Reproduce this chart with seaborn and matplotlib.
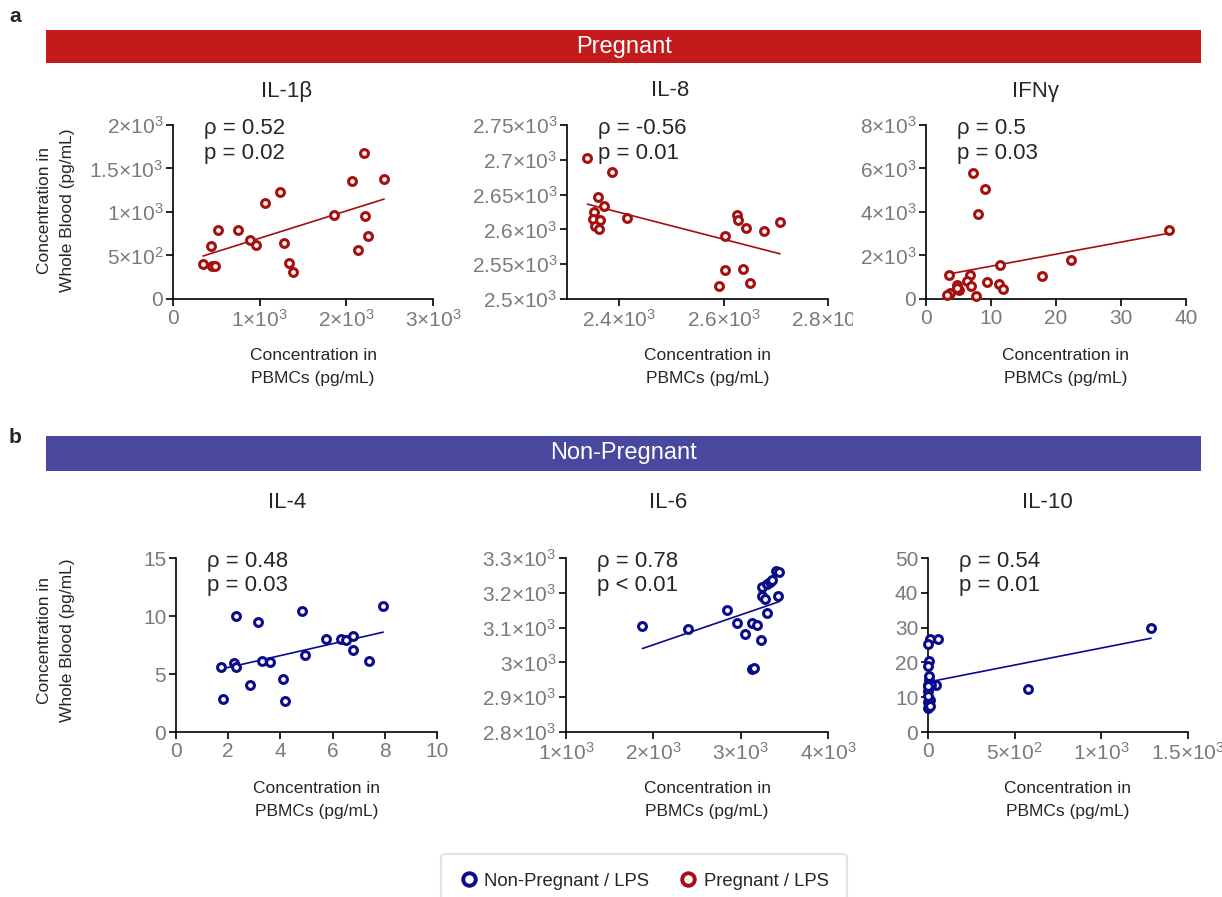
import numpy as np
import matplotlib
matplotlib.use("Agg")
import matplotlib.pyplot as plt
from matplotlib.ticker import FuncFormatter, FixedLocator
from matplotlib.lines import Line2D
from matplotlib.patches import Rectangle
from matplotlib.transforms import Bbox
import seaborn as sns

# ---- data ----
il1b_pbmc = [346, 446, 481, 442, 519, 754, 892, 958, 1058, 1238, 1277, 1338, 1385, 1854, 2062, 2131, 2208, 2219, 2254, 2435]
il1b_wb = [401, 379, 382, 604, 792, 792, 677, 620, 1098, 1231, 639, 413, 314, 960, 1358, 558, 1675, 952, 723, 1380]

il8_pbmc = [2339, 2386, 2359, 2371, 2352, 2350, 2364, 2353, 2361, 2415, 2603, 2626, 2628, 2642, 2678, 2708, 2602, 2638, 2592, 2651]
il8_wb = [2703, 2682, 2646, 2633, 2625, 2615, 2614, 2605, 2601, 2616, 2591, 2620, 2613, 2602, 2597, 2611, 2541, 2543, 2519, 2523]

ifng_pbmc = [7.3, 9.1, 8.0, 37.4, 22.3, 11.4, 17.9, 3.5, 6.8, 6.3, 9.4, 11.2, 6.9, 4.8, 5.0, 11.8, 7.7, 3.7, 3.3, 4.8]
ifng_wb = [5795, 5076, 3930, 3180, 1774, 1560, 1070, 1116, 1100, 810, 765, 703, 581, 627, 428, 474, 153, 275, 168, 505]

il4_pbmc = [1.73, 1.79, 2.23, 2.31, 2.29, 2.83, 3.13, 3.30, 3.62, 4.09, 4.18, 4.81, 4.96, 5.74, 6.33, 6.51, 6.78, 6.80, 7.40, 7.94]
il4_wb = [5.57, 2.82, 5.95, 5.63, 10.03, 4.05, 9.45, 6.15, 6.06, 4.54, 2.64, 10.4, 6.61, 7.99, 8.05, 7.96, 8.28, 7.10, 6.09, 10.89]

il6_pbmc = [1875, 2398, 2838, 2960, 3044, 3132, 3186, 3235, 3132, 3155, 3239, 3247, 3277, 3304, 3304, 3335, 3354, 3400, 3440, 3430]
il6_wb = [3105, 3095, 3150, 3114, 3082, 3114, 3107, 3063, 2980, 2984, 3190, 3216, 3183, 3141, 3224, 3230, 3237, 3264, 3259, 3191]

il10_pbmc = [1287, 579, 58, 13, 2, 8, 2, 4, 48, 0, 17, 0, 13, 0, 2, 6, 0, 8, 0, 10]
il10_wb = [29.9, 12.3, 26.7, 26.6, 25.4, 20.5, 18.9, 15.0, 13.4, 13.6, 13.6, 11.9, 9.3, 8.6, 6.9, 7.7, 10.4, 16.0, 13.1, 7.4]

stats_a = [("ρ = 0.52", "p = 0.02"), ("ρ = -0.56", "p = 0.01"), ("ρ = 0.5", "p = 0.03")]
stats_b = [("ρ = 0.48", "p = 0.03"), ("ρ = 0.78", "p < 0.01"), ("ρ = 0.54", "p = 0.01")]

RED = "#a50f0f"
BLUE = "#0a0a8c"
GREY = "#7a7a7a"

sns.set_style("ticks")
plt.rcParams["font.family"] = ["Liberation Sans", "DejaVu Sans"]
plt.rcParams["mathtext.fontset"] = "custom"
plt.rcParams["mathtext.rm"] = "Liberation Sans"
plt.rcParams["mathtext.it"] = "Liberation Sans"
plt.rcParams["mathtext.default"] = "regular"

W, H = 1222, 897
fig = plt.figure(figsize=(W / 100, H / 100), dpi=100)


def fx(x):
    return x / W


def fy(y):
    return 1 - y / H


def sci(v, pos=None):
    if v == 0:
        return "0"
    e = int(np.floor(np.log10(abs(v)) + 1e-9))
    m = v / 10 ** e
    ms = f"{m:.2f}".rstrip("0").rstrip(".")
    return f"{ms}×10$^{{{e}}}$"


def plain(v, pos=None):
    return f"{v:g}"


def panel(box, x, y, color, xlim, xt, ylim, yt, xfmt, yfmt, title, title_x, title_y, stats):
    l, t, r, b = box
    ax = fig.add_axes([fx(l), fy(b), fx(r - l), (b - t) / H])
    sns.regplot(x=np.array(x), y=np.array(y), ax=ax, ci=None, truncate=True,
                scatter_kws=dict(s=32, facecolors="white", edgecolors=color,
                                 linewidths=2.2, alpha=1, zorder=3, clip_on=False),
                line_kws=dict(color=color, lw=1.2, zorder=2))
    ax.set_xlim(*xlim)
    ax.set_ylim(*ylim)
    ax.xaxis.set_major_locator(FixedLocator(xt))
    ax.yaxis.set_major_locator(FixedLocator(yt))
    ax.xaxis.set_major_formatter(FuncFormatter(xfmt))
    ax.yaxis.set_major_formatter(FuncFormatter(yfmt))
    ax.set_xlabel("")
    ax.set_ylabel("")
    sns.despine(ax=ax)
    for s in ["left", "bottom"]:
        ax.spines[s].set_linewidth(1.2)
        ax.spines[s].set_color("black")
    ax.tick_params(axis="both", direction="out", length=5, width=1.2, color="black",
                   labelsize=15, labelcolor=GREY, pad=2)
    fig.text(fx(title_x), fy(title_y), title, ha="center", va="center", fontsize=16)
    fig.text(fx(l + 31), fy(t + 3), stats[0], ha="left", va="center", fontsize=16)
    fig.text(fx(l + 31), fy(t + 28), stats[1], ha="left", va="center", fontsize=16)
    xc = (l + r) / 2 + 10
    fig.text(fx(xc), fy(b + 68), "Concentration in\nPBMCs (pg/mL)", ha="center",
             va="center", fontsize=12.5, linespacing=1.6)
    return ax


# ---- banners ----
fig.patches.append(Rectangle((fx(46), fy(63)), fx(1201 - 46), 33 / H, transform=fig.transFigure,
                             facecolor="#c41a1c", edgecolor="none"))
fig.text(fx(624), fy(47), "Pregnant", color="white", ha="center", va="center", fontsize=17)
fig.patches.append(Rectangle((fx(46), fy(471)), fx(1201 - 46), 35 / H, transform=fig.transFigure,
                             facecolor="#4a479e", edgecolor="none"))
fig.text(fx(624), fy(453), "Non-Pregnant", color="white", ha="center", va="center", fontsize=17)
fig.text(fx(15), fy(17), "a", fontsize=15, fontweight="bold", ha="center", va="center")
fig.text(fx(15), fy(437), "b", fontsize=15, fontweight="bold", ha="center", va="center")

# ---- row a: pregnant ----
panel((173, 125, 433, 299), il1b_pbmc, il1b_wb, RED, (0, 3000), [0, 1000, 2000, 3000],
      (0, 2000), [0, 500, 1000, 1500, 2000], sci, sci, "IL-1β", 287, 91, stats_a[0])
ax8 = panel((567, 125, 828, 299), il8_pbmc, il8_wb, RED, (2300, 2800), [2400, 2600, 2800],
            (2500, 2750), [2500, 2550, 2600, 2650, 2700, 2750], sci, sci, "IL-8", 670, 91, stats_a[1])
panel((926, 125, 1186, 299), ifng_pbmc, ifng_wb, RED, (0, 40), [0, 10, 20, 30, 40],
      (0, 8000), [0, 2000, 4000, 6000, 8000], plain, sci, "IFNγ", 1035, 91, stats_a[2])

# ---- row b: non-pregnant ----
panel((176, 558, 437, 732), il4_pbmc, il4_wb, BLUE, (0, 10), [0, 2, 4, 6, 8, 10],
      (0, 15), [0, 5, 10, 15], plain, plain, "IL-4", 287, 502, stats_b[0])
panel((566, 558, 828, 732), il6_pbmc, il6_wb, BLUE, (1000, 4000), [1000, 2000, 3000, 4000],
      (2800, 3300), [2800, 2900, 3000, 3100, 3200, 3300], sci, sci, "IL-6", 668, 502, stats_b[1])
panel((928, 558, 1188, 732), il10_pbmc, il10_wb, BLUE, (0, 1500), [0, 500, 1000, 1500],
      (0, 50), [0, 10, 20, 30, 40, 50], sci, plain, "IL-10", 1047, 502, stats_b[2])

# the IL-8 panel is cut at its right edge in the original figure
clip = Bbox.from_extents(0, 0, 853, H)
for lab in ax8.get_xticklabels():
    lab.set_clip_on(True)
    lab.set_clip_box(clip)

for yc in (210, 640):
    fig.text(fx(56), fy(yc), "Concentration in\nWhole Blood (pg/mL)", rotation=90,
             ha="center", va="center", fontsize=12.5, linespacing=1.6)

# ---- legend ----
handles = [Line2D([], [], ls="", marker="o", markersize=9, markerfacecolor="white",
                  markeredgecolor=BLUE, markeredgewidth=2.8, label="Non-Pregnant / LPS"),
           Line2D([], [], ls="", marker="o", markersize=9, markerfacecolor="white",
                  markeredgecolor=RED, markeredgewidth=2.8, label="Pregnant / LPS")]
leg = fig.legend(handles=handles, loc="center", bbox_to_anchor=(fx(644), fy(881)), ncol=2,
                 fontsize=13.3, frameon=True, fancybox=True, handletextpad=0.35,
                 columnspacing=1.6, borderpad=1.0, handlelength=1.0, borderaxespad=0)
leg.get_frame().set_edgecolor("#dcdcdc")
leg.get_frame().set_linewidth(1.5)

fig.savefig("out.png", dpi=100)
